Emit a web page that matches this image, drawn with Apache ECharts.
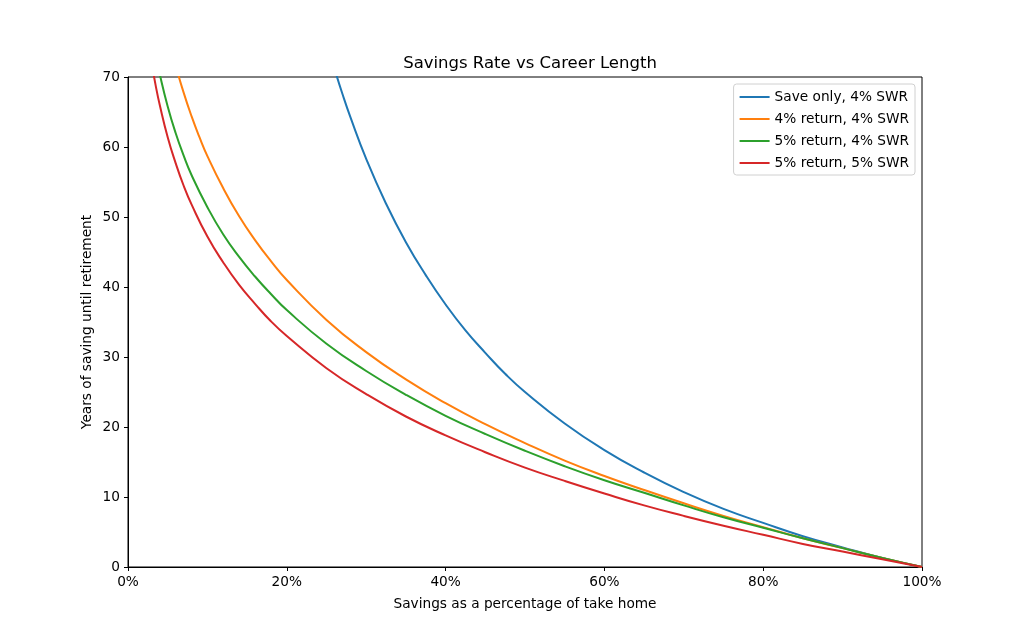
<!DOCTYPE html>
<html>
<head>
<meta charset="utf-8">
<script src="https://cdn.jsdelivr.net/npm/echarts@6/dist/echarts.min.js"></script>
<style>
  html, body { margin: 0; padding: 0; background: #fff; }
  #chart { width: 1024px; height: 638px; }
</style>
</head>
<body>
<div id="chart"></div>
<script>
const saveOnlyRate = [25, 26, 27, 28, 30, 32.5, 35, 37.5, 40, 42.5, 45, 47.5, 50, 55, 60, 65, 70, 75, 80, 85, 90, 95, 100];
const saveOnlyYears = [75.0, 71.2, 67.6, 64.3, 58.3, 51.9, 46.4, 41.7, 37.5, 33.8, 30.6, 27.6, 25.0, 20.5, 16.7, 13.5, 10.7, 8.3, 6.3, 4.4, 2.8, 1.3, 0];

const ret4Rate = [5, 6, 7, 8, 9, 10, 12, 14, 16, 18, 20, 25, 30, 35, 40, 45, 50, 55, 60, 65, 70, 75, 80, 85, 90, 95, 100];
const ret4Years = [76.4, 71.7, 67.8, 64.4, 61.4, 58.7, 54.1, 50.1, 46.7, 43.7, 41.0, 35.3, 30.7, 26.8, 23.4, 20.4, 17.7, 15.2, 13.0, 11.0, 9.1, 7.3, 5.7, 4.1, 2.7, 1.3, 0];

const ret5Rate = [3, 3.5, 4, 5, 6, 7, 8, 10, 12, 14, 16, 18, 20, 25, 30, 35, 40, 45, 50, 55, 60, 65, 70, 75, 80, 85, 90, 95, 100];
const ret5Years = [76.3, 73.1, 70.4, 65.8, 62.0, 58.8, 56.0, 51.4, 47.5, 44.3, 41.5, 39.0, 36.7, 31.9, 28.0, 24.6, 21.6, 19.0, 16.6, 14.4, 12.4, 10.6, 8.8, 7.1, 5.6, 4.1, 2.7, 1.3, 0];

const ret5Swr5Rate = [2.5, 3, 3.5, 4, 5, 6, 7, 8, 10, 12, 14, 16, 18, 20, 25, 30, 35, 40, 45, 50, 55, 60, 65, 70, 75, 80, 85, 90, 95, 100];
const ret5Swr5Years = [75.6, 71.9, 68.7, 66.0, 61.4, 57.7, 54.5, 51.8, 47.2, 43.5, 40.3, 37.6, 35.1, 33.0, 28.4, 24.7, 21.5, 18.8, 16.4, 14.2, 12.3, 10.5, 8.8, 7.3, 5.9, 4.6, 3.3, 2.2, 1.1, 0];

const seriesNames = ['Save only, 4% SWR', '4% return, 4% SWR', '5% return, 4% SWR', '5% return, 5% SWR'];
const colors = ['#1f77b4', '#ff7f0e', '#2ca02c', '#d62728'];
const xTicks = [0, 20, 40, 60, 80, 100];
const yTicks = [0, 10, 20, 30, 40, 50, 60, 70];

const zip = (xs, ys) => xs.map((x, i) => [x, ys[i]]);
const curves = [
    zip(saveOnlyRate, saveOnlyYears),
    zip(ret4Rate, ret4Years),
    zip(ret5Rate, ret5Years),
    zip(ret5Swr5Rate, ret5Swr5Years),
];

const font = 'DejaVu Sans';
const chart = echarts.init(document.getElementById('chart'));
chart.setOption({
    animation: false,
    textStyle: { fontFamily: font },
    title: {
        text: 'Savings Rate vs Career Length',
        left: 525,
        top: 50,
        textAlign: 'center',
        textStyle: { fontFamily: font, fontSize: 16.5, fontWeight: 'normal', color: '#000' },
    },
    legend: {
        orient: 'vertical',
        right: 109,
        top: 84,
        itemWidth: 30,
        itemHeight: 2,
        itemGap: 8,
        icon: 'rect',
        padding: [6, 6, 5, 6],
        borderColor: '#d0d0d0',
        borderWidth: 1,
        borderRadius: 3,
        backgroundColor: 'rgba(255,255,255,0.8)',
        textStyle: { fontFamily: font, fontSize: 13.7, color: '#000' },
        data: seriesNames,
    },
    grid: {
        left: 128,
        right: 102,
        top: 77,
        bottom: 71,
        show: true,
        borderColor: '#000',
        borderWidth: 1,
        backgroundColor: 'transparent',
    },
    xAxis: {
        type: 'value',
        min: xTicks[0],
        max: xTicks[xTicks.length - 1],
        interval: 20,
        name: 'Savings as a percentage of take home',
        nameLocation: 'middle',
        nameGap: 30,
        nameTextStyle: { fontFamily: font, fontSize: 13.7, color: '#000' },
        axisLine: { lineStyle: { color: '#000', width: 1 } },
        axisTick: { show: true, length: 4, lineStyle: { color: '#000' } },
        axisLabel: { formatter: '{value}%', fontFamily: font, fontSize: 13.7, color: '#000', margin: 8 },
        splitLine: { show: false },
    },
    yAxis: {
        type: 'value',
        min: yTicks[0],
        max: yTicks[yTicks.length - 1],
        interval: 10,
        name: 'Years of saving until retirement',
        nameLocation: 'middle',
        nameGap: 34,
        nameMoveOverlap: false,
        nameTextStyle: { fontFamily: font, fontSize: 13.7, color: '#000' },
        axisLine: { lineStyle: { color: '#000', width: 1 } },
        axisTick: { show: true, length: 4, lineStyle: { color: '#000' } },
        axisLabel: { fontFamily: font, fontSize: 13.7, color: '#000', margin: 8 },
        splitLine: { show: false },
    },
    series: curves.map((data, i) => ({
        name: seriesNames[i],
        type: 'line',
        data: data,
        smooth: true,
        showSymbol: false,
        clip: true,
        color: colors[i],
        lineStyle: { width: 2, color: colors[i] },
    })),
});
</script>
</body>
</html>
